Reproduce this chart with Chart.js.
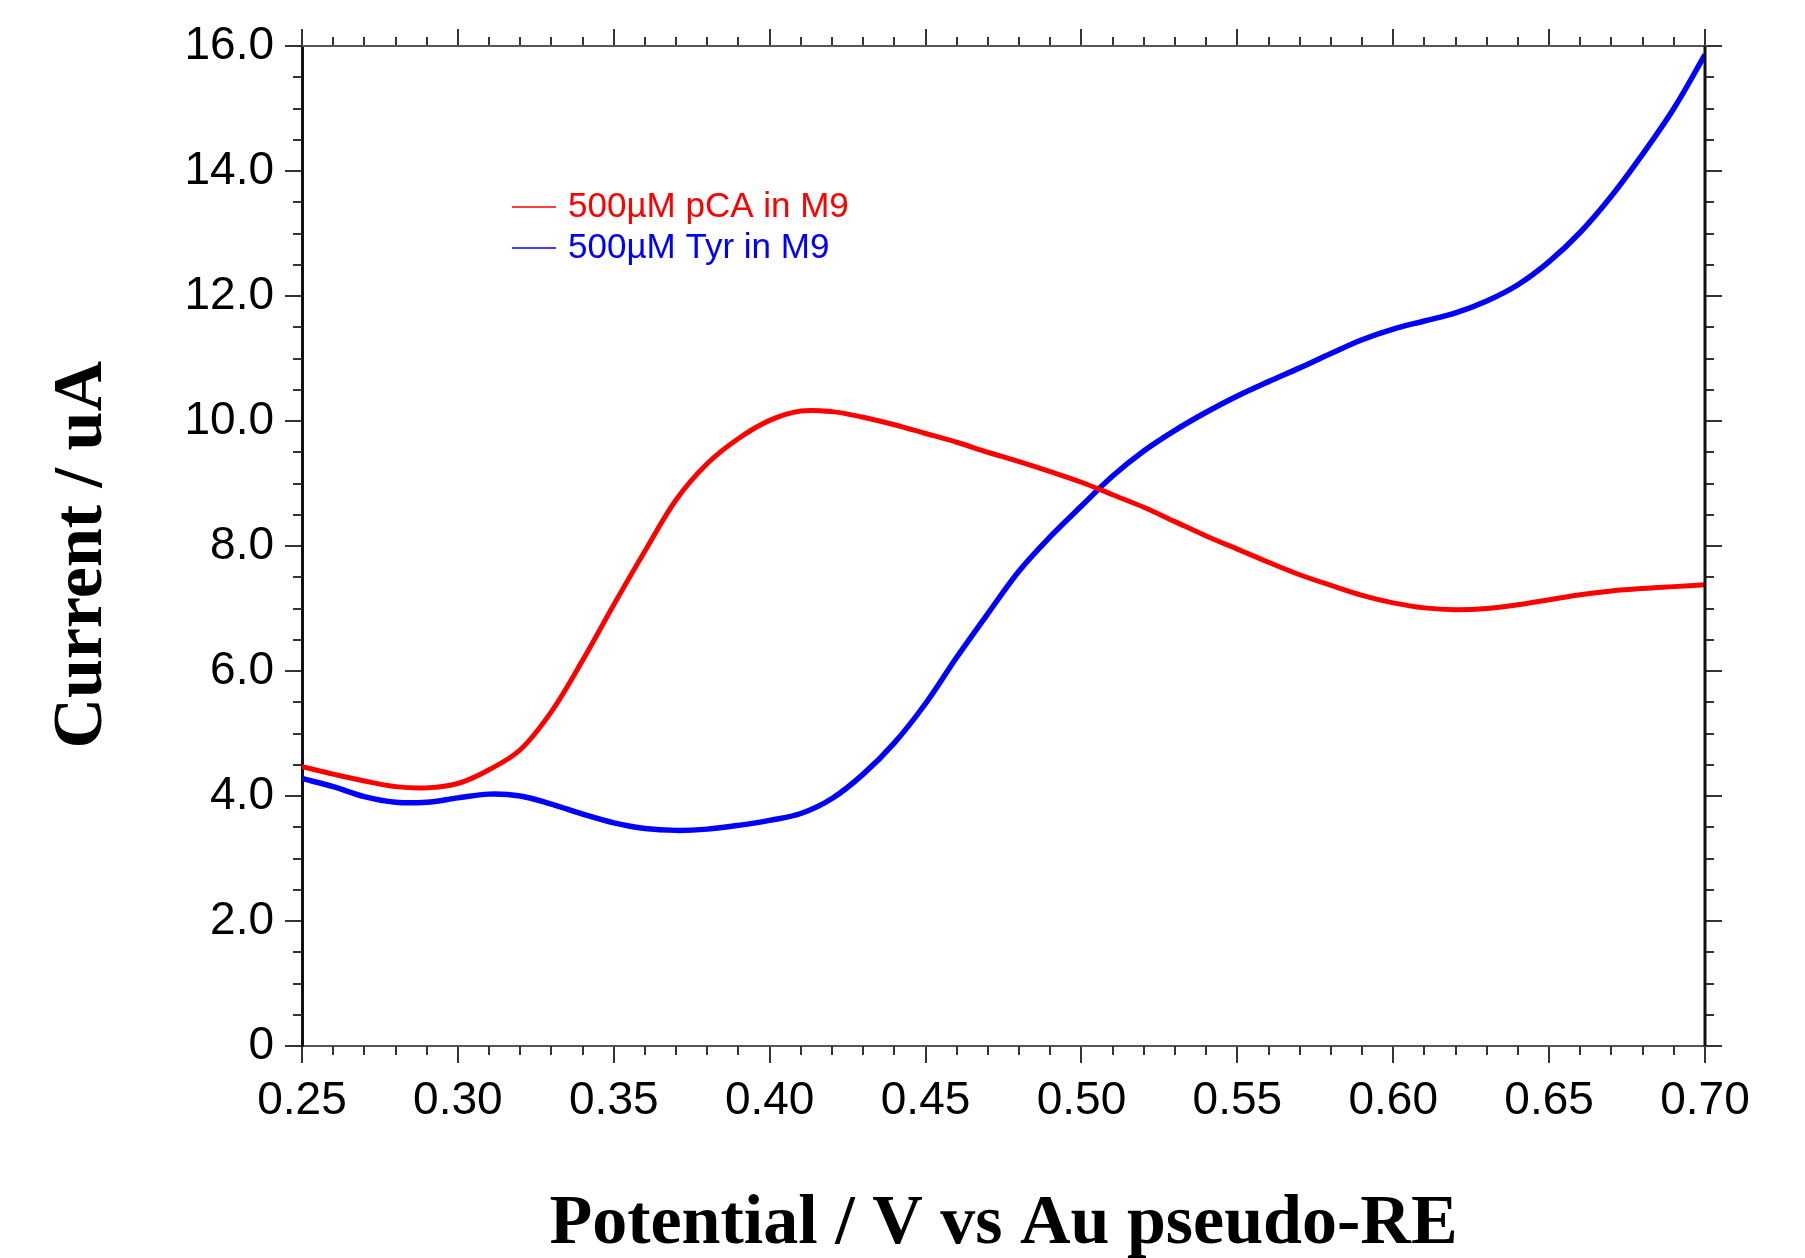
<!DOCTYPE html>
<html>
<head>
<meta charset="utf-8">
<script src="https://cdn.jsdelivr.net/npm/chart.js@4.4.0/dist/chart.umd.min.js"></script>
<style>
  html, body { margin: 0; padding: 0; background: #fff; }
</style>
</head>
<body>
<canvas id="chart" width="1805" height="1258"></canvas>
<script>
const potential = [0.25, 0.26, 0.27, 0.28, 0.29, 0.30, 0.31, 0.32, 0.33, 0.34,
                   0.35, 0.36, 0.37, 0.38, 0.39, 0.40, 0.41, 0.42, 0.43, 0.44,
                   0.45, 0.46, 0.47, 0.48, 0.49, 0.50, 0.51, 0.52, 0.53, 0.54,
                   0.55, 0.56, 0.57, 0.58, 0.59, 0.60, 0.61, 0.62, 0.63, 0.64,
                   0.65, 0.66, 0.67, 0.68, 0.69, 0.70];
const pcaCurrent = [4.47, 4.35, 4.24, 4.15, 4.13, 4.20, 4.42, 4.74, 5.35, 6.17,
                    7.06, 7.92, 8.74, 9.32, 9.72, 10.01, 10.16, 10.15, 10.06, 9.94,
                    9.80, 9.66, 9.50, 9.35, 9.19, 9.02, 8.82, 8.62, 8.39, 8.16,
                    7.95, 7.74, 7.54, 7.37, 7.21, 7.09, 7.01, 6.98, 7.00, 7.06,
                    7.14, 7.22, 7.28, 7.32, 7.35, 7.38];
const tyrCurrent = [4.28, 4.15, 3.99, 3.90, 3.90, 3.97, 4.03, 4.00, 3.87, 3.71,
                    3.57, 3.48, 3.45, 3.47, 3.53, 3.61, 3.72, 3.96, 4.35, 4.85,
                    5.48, 6.22, 6.92, 7.60, 8.15, 8.64, 9.12, 9.52, 9.85, 10.14,
                    10.40, 10.63, 10.85, 11.08, 11.30, 11.47, 11.60, 11.73, 11.92, 12.18,
                    12.55, 13.02, 13.60, 14.27, 15.00, 15.86];
const seriesLabels = ['500µM pCA in M9', '500µM Tyr in M9'];
const seriesColors = ['#ff0000', '#0000ff'];
const xTicks = [0.25, 0.30, 0.35, 0.40, 0.45, 0.50, 0.55, 0.60, 0.65, 0.70];
const yTicks = [0, 2, 4, 6, 8, 10, 12, 14, 16];

const tickFont = { family: '"Liberation Sans Narrow", "Liberation Sans", Arial, sans-serif', size: 46 };
const titleFont = { family: '"Liberation Serif", "Times New Roman", serif', size: 70, weight: 'bold', lineHeight: 0.95 };

// minor ticks, top/right frame and the in-plot legend
const frame = {
  id: 'frame',
  afterDraw(chart) {
    const { ctx, chartArea: a, scales: { x, y } } = chart;
    ctx.save();
    ctx.strokeStyle = '#333';
    ctx.lineWidth = 2;
    ctx.beginPath();
    for (let i = 0; i <= 45; i++) {
      const px = Math.round(x.getPixelForValue(0.25 + i * 0.01));
      const len = i % 5 === 0 ? 17 : 9;
      if (i % 5 !== 0) { ctx.moveTo(px, a.bottom); ctx.lineTo(px, a.bottom + len); }
      ctx.moveTo(px, a.top); ctx.lineTo(px, a.top - len);
    }
    for (let i = 0; i <= 32; i++) {
      const py = Math.round(y.getPixelForValue(i * 0.5));
      const len = i % 4 === 0 ? 17 : 9;
      if (i % 4 !== 0) { ctx.moveTo(a.left, py); ctx.lineTo(a.left - len, py); }
      ctx.moveTo(a.right, py); ctx.lineTo(a.right + len, py);
    }
    ctx.stroke();

    ctx.strokeStyle = '#555';
    ctx.beginPath();
    ctx.moveTo(a.left, a.top); ctx.lineTo(a.right + 2, a.top);
    ctx.stroke();
    ctx.strokeStyle = '#111';
    ctx.lineWidth = 3;
    ctx.beginPath();
    ctx.moveTo(a.right, a.top); ctx.lineTo(a.right, a.bottom);
    ctx.stroke();

    ctx.font = '35px "Liberation Sans", Arial, sans-serif';
    ctx.textBaseline = 'middle';
    seriesLabels.forEach((label, i) => {
      const ly = 207 + i * 41;
      ctx.strokeStyle = seriesColors[i];
      ctx.globalAlpha = 0.75;
      ctx.lineWidth = 2;
      ctx.beginPath();
      ctx.moveTo(512, ly); ctx.lineTo(556, ly);
      ctx.stroke();
      ctx.globalAlpha = 1;
      ctx.fillStyle = seriesColors[i];
      ctx.fillText(label, 568, ly);
    });
    ctx.restore();
  }
};

new Chart(document.getElementById('chart').getContext('2d'), {
  type: 'line',
  data: {
    datasets: [
      {
        label: seriesLabels[0],
        data: potential.map((v, i) => ({ x: v, y: pcaCurrent[i] })),
        borderColor: seriesColors[0],
        borderWidth: 5,
      },
      {
        label: seriesLabels[1],
        data: potential.map((v, i) => ({ x: v, y: tyrCurrent[i] })),
        borderColor: seriesColors[1],
        borderWidth: 5.5,
      }
    ]
  },
  options: {
    responsive: false,
    animation: false,
    devicePixelRatio: 1,
    layout: { padding: { top: 46, right: 100, left: 0, bottom: 0 } },
    elements: {
      point: { radius: 0 },
      line: { tension: 0.35, fill: false }
    },
    plugins: {
      legend: { display: false },
      tooltip: { enabled: false }
    },
    scales: {
      x: {
        type: 'linear',
        min: 0.25,
        max: 0.70,
        afterBuildTicks: s => { s.ticks = xTicks.map(v => ({ value: v })); },
        afterFit: s => { s.height = 212; },
        ticks: {
          callback: v => v.toFixed(2),
          font: tickFont,
          color: '#000',
          padding: 11,
          maxRotation: 0,
          autoSkip: false
        },
        grid: { drawOnChartArea: false, tickLength: 17, color: '#333', lineWidth: 2 },
        border: { color: '#555', width: 2 },
        title: {
          display: true,
          text: 'Potential / V vs Au pseudo-RE',
          font: titleFont,
          color: '#000',
          padding: { top: 0, bottom: 0 }
        }
      },
      y: {
        min: 0,
        max: 16,
        afterBuildTicks: s => { s.ticks = yTicks.map(v => ({ value: v })); },
        afterFit: s => { s.width = 302; },
        ticks: {
          callback: v => v === 0 ? '0' : v.toFixed(1),
          font: tickFont,
          color: '#000',
          padding: 11
        },
        grid: { drawOnChartArea: false, tickLength: 17, color: '#333', lineWidth: 2 },
        border: { color: '#111', width: 3 },
        title: {
          display: true,
          text: 'Current / uA\u00a0',
          font: titleFont,
          color: '#000',
          padding: { top: 50, bottom: 0 }
        }
      }
    }
  },
  plugins: [frame]
});
</script>
</body>
</html>
